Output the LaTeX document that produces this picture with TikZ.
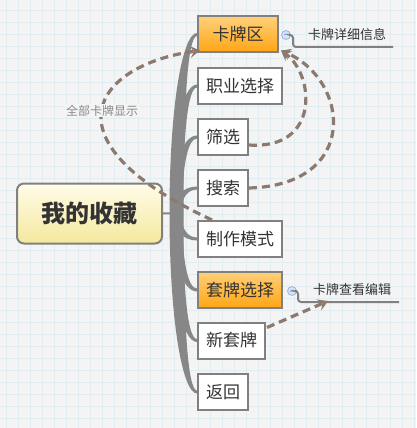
\documentclass[tikz,border=0pt]{standalone}
\usepackage{fontspec}
\setmainfont{Noto Sans CJK SC}
\usetikzlibrary{arrows.meta,calc}
\definecolor{paper}{HTML}{F4F4F4}
\definecolor{gridblue}{HTML}{E2EDF2}
\definecolor{rim}{HTML}{808080}
\definecolor{limb}{HTML}{878787}
\definecolor{ink}{HTML}{333333}
\definecolor{orTop}{HTML}{FFD07A}
\definecolor{orBot}{HTML}{FFA514}
\definecolor{rootTop}{HTML}{FFFCE8}
\definecolor{rootBot}{HTML}{F5E89E}
\definecolor{mud}{HTML}{8C7A70}
\definecolor{dotfill}{HTML}{D5E3FA}
\definecolor{dotrim}{HTML}{9AB4E6}
\definecolor{tag}{HTML}{8A8A8A}
\begin{document}
\begin{tikzpicture}[x=1pt,y=-1pt,
		box/.style={draw=rim,line width=2pt,fill=white,anchor=west,minimum height=36pt,inner xsep=8pt,inner ysep=0pt,text=ink,font=\fontsize{17}{20}\selectfont},
		hot/.style={box,top color=orTop,bottom color=orBot},
		link/.style={draw=mud,line width=3.2pt,dash pattern=on 8pt off 5pt,-{Stealth[length=10pt,width=12pt,inset=4pt]}},
		stub/.style={draw=rim,line width=2pt,rounded corners=3pt},
		dot/.style={circle,draw=dotrim,fill=dotfill,line width=.8pt,minimum size=9pt,inner sep=0pt},
		note/.style={text=ink,font=\fontsize{13}{15}\selectfont}]
		\fill[paper] (0,0) rectangle (416,428);
		\useasboundingbox (0,0) rectangle (416,428);
		\foreach \i in {6,18,...,414} \draw[gridblue,line width=.8pt] (\i,0) -- (\i,428);
		\foreach \j in {10,22,...,422} \draw[gridblue,line width=.8pt] (0,\j) -- (416,\j);
		\node[draw=rim,line width=2pt,rounded corners=7pt,top color=rootTop,bottom color=rootBot,minimum width=145pt,minimum height=60pt,text=ink,font=\fontsize{24}{28}\selectfont\bfseries] (shoucang) at (89.5,213.5) {我的收藏};
		\node[hot,minimum width=80pt] (kapai) at (197,34.5) {卡牌区};
		\foreach \n/\t/\y in {zhiye/职业选择/86,shaixuan/筛选/137,sousuo/搜索/188,zhizuo/制作模式/239,xintao/新套牌/340.5,fanhui/返回/392}
		\node[box] (\n) at (197,\y) {\t};
		\node[hot] (taopai) at (197,290) {套牌选择};
		\coordinate (hub) at (176.5,213);
		\draw[limb,line width=2pt] (shoucang.east) -- (hub);
		\foreach \n/\w/\s in {kapai/7/1,zhiye/6.5/1,shaixuan/5.5/1,sousuo/4.5/1,zhizuo/4.5/-1,taopai/5.5/-1,xintao/6.5/-1,fanhui/7/-1}{
			\path ($(hub)!.6!(hub|-\n.west)$) coordinate (c1) ($(\n.west)+(-12,0)$) coordinate (c2);
			\fill[limb] ($(hub)+(-\w,0)$) .. controls ($(c1)+(-\w,0)$) and ($(c2)+(-2.5,-1.5*\s)$) .. ($(\n.west)+(0,-1.5*\s)$)
			-- ($(\n.west)+(0,1.5*\s)$) .. controls ($(c2)+(2.5,1.5*\s)$) and ($(c1)+(\w,0)$) .. ($(hub)+(\w,0)$) -- cycle;
		}
		\node[dot] (d1) at (286,35) {};
		\node[dot] (d2) at (292,291) {};
		\foreach \d in {d1,d2} \draw[dotrim,line width=1pt] ($(\d)+(-2.4,0)$) -- ($(\d)+(2.4,0)$);
		\node[note] (xinxi) at (347,35) {卡牌详细信息};
		\node[note] (bianji) at (352,290) {卡牌查看编辑};
		\coordinate (e1) at (393,47);
		\coordinate (e2) at (399,302);
		\coordinate (u2) at (328,301);
		\draw[stub] (d1.east) -| (293,47) -- (e1);
		\draw[stub] (d2.east) -| (298,302) -- (e2);
		\draw[link] ($(zhizuo.north west)+(15,0)$) .. controls (40,140) and (95,65) .. node[pos=.5,fill=paper,text=tag,inner sep=1pt,font=\fontsize{12}{14}\selectfont] {全部卡牌显示} ($(kapai.south west)+(3,-3)$);
		\draw[link] ($(shaixuan.east)+(0,8)$) .. controls (320,150) and (315,75) .. ($(kapai.south east)+(2,-3)$);
		\draw[link] (sousuo.east) .. controls (360,185) and (350,80) .. ($(kapai.south east)+(2,-3)$);
		\draw[link] ($(xintao.north east)+(1,6)$) -- (u2);
	\end{tikzpicture}
\end{document}
